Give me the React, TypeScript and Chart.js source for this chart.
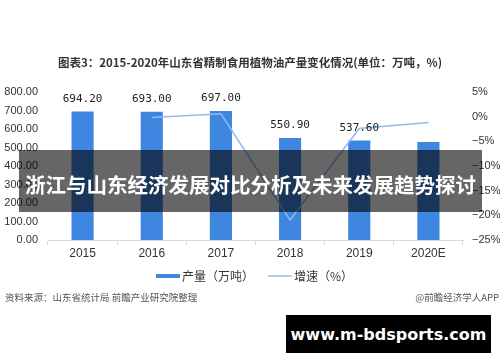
import React, { useEffect, useRef } from 'react';
import { Chart, registerables } from 'chart.js';

Chart.register(...registerables);

const categories = ['2015', '2016', '2017', '2018', '2019', '2020E'];
const outputValues = [694.2, 693.0, 697.0, 550.9, 537.6, 530.0];
const outputLabels: (string | null)[] = ['694.20', '693.00', '697.00', '550.90', '537.60', null];
const growthValues: (number | null)[] = [null, -0.17, 0.58, -20.96, -2.41, -1.2];
const leftAxis = { min: 0, max: 800, step: 100 };
const rightAxis = { min: -25, max: 5, step: 5 };

const titleText = '图表3：2015-2020年山东省精制食用植物油产量变化情况(单位：万吨，%)';
const legendBar = '产量（万吨）';
const legendLine = '增速（%）';
const sourceText = '资料来源：山东省统计局 前瞻产业研究院整理';
const creditText = '@前瞻经济学人APP';
const bannerText = '浙江与山东经济发展对比分析及未来发展趋势探讨';
const siteText = 'www.m-bdsports.com';

const BAR_COLOR = '#3f86e1';
const LINE_COLOR = '#92baf0';
const CJK = '"Noto Sans CJK SC", "Noto Sans", sans-serif';

const decorPlugin = {
  id: 'decor',
  afterDraw(chart: any) {
    const ctx = chart.ctx;
    ctx.save();
    // title
    ctx.fillStyle = '#333';
    ctx.font = `bold 11.5px ${CJK}`;
    ctx.textAlign = 'center';
    ctx.textBaseline = 'middle';
    ctx.fillText(titleText, 250, 63);

    // bar value labels
    const meta = chart.getDatasetMeta(1);
    ctx.font = '11px "DejaVu Sans Mono", monospace';
    ctx.fillStyle = '#222';
    meta.data.forEach((el: any, i: number) => {
      const t = outputLabels[i];
      if (t) ctx.fillText(t, el.x, el.y - 12.5);
    });

    // legend
    ctx.fillStyle = BAR_COLOR;
    ctx.fillRect(156, 274, 24, 4);
    ctx.strokeStyle = LINE_COLOR;
    ctx.lineWidth = 1.5;
    ctx.beginPath();
    ctx.moveTo(268, 276);
    ctx.lineTo(292, 276);
    ctx.stroke();
    ctx.fillStyle = '#333';
    ctx.font = `12px ${CJK}`;
    ctx.textAlign = 'left';
    ctx.fillText(legendBar, 182, 276);
    ctx.fillText(legendLine, 294, 276);

    // source
    ctx.fillStyle = '#555';
    ctx.font = `9.5px ${CJK}`;
    ctx.fillText(sourceText, 5, 297);
    ctx.textAlign = 'right';
    ctx.fillText(creditText, 499, 297);
    ctx.restore();
  },
};

export default function App() {
  const ref = useRef<HTMLCanvasElement | null>(null);
  useEffect(() => {
    if (!ref.current) return;
    const chart = new Chart(ref.current, {
      type: 'bar',
      data: {
        labels: categories,
        datasets: [
          {
            type: 'line',
            label: legendLine,
            data: growthValues,
            yAxisID: 'y1',
            borderColor: LINE_COLOR,
            backgroundColor: LINE_COLOR,
            borderWidth: 1.5,
            pointRadius: 0,
            tension: 0,
            order: 0,
          } as any,
          {
            type: 'bar',
            label: legendBar,
            data: outputValues,
            yAxisID: 'y',
            backgroundColor: BAR_COLOR,
            barPercentage: 0.32,
            categoryPercentage: 1,
            order: 1,
          } as any,
        ],
      },
      options: {
        animation: false,
        responsive: false,
        maintainAspectRatio: false,
        layout: { padding: { top: 92, bottom: 98, left: 0, right: 0 } },
        plugins: {
          legend: { display: false },
          title: { display: false },
          tooltip: { enabled: false },
        },
        scales: {
          x: {
            position: 'bottom',
            afterFit: (s: any) => { s.height = 24; },
            grid: { display: true, drawOnChartArea: false, color: '#d9d9d9', tickLength: 5, offset: true },
            border: { color: '#d9d9d9' },
            ticks: { color: '#333', font: { family: '"Liberation Sans", Arial, sans-serif', size: 12 }, padding: 1 },
          },
          y: {
            position: 'left',
            min: leftAxis.min,
            max: leftAxis.max,
            afterFit: (s: any) => { s.width = 48; },
            grid: { display: false, drawTicks: false },
            border: { display: false },
            ticks: {
              stepSize: leftAxis.step,
              padding: 10,
              color: '#333',
              font: { family: '"Liberation Sans", Arial, sans-serif', size: 11 },
              callback: (v: any) => Number(v).toFixed(2),
            },
          },
          y1: {
            position: 'right',
            min: rightAxis.min,
            max: rightAxis.max,
            afterFit: (s: any) => { s.width = 37; },
            grid: { display: false, drawTicks: false },
            border: { display: false },
            ticks: {
              stepSize: rightAxis.step,
              padding: 9,
              color: '#333',
              font: { family: '"Liberation Sans", Arial, sans-serif', size: 11 },
              callback: (v: any) => (Number(v) < 0 ? '−' + Math.abs(Number(v)) : String(v)) + '%',
            },
          },
        },
      } as any,
      plugins: [decorPlugin],
    });
    return () => chart.destroy();
  }, []);

  return (
    <div style={{ position: 'fixed', left: 0, top: 0, width: 500, height: 362, background: '#fff', overflow: 'hidden' }}>
      <canvas ref={ref} width={500} height={362} style={{ position: 'absolute', left: 0, top: 0, width: 500, height: 362 }} />
      <div
        style={{
          position: 'absolute', left: 19, top: 150, width: 463, height: 62,
          background: 'rgba(0,0,0,0.6)', color: '#fff',
          display: 'flex', alignItems: 'center', justifyContent: 'center',
          fontFamily: CJK, fontWeight: 700, fontSize: 20.5, whiteSpace: 'nowrap', letterSpacing: 0,
          paddingTop: 5, boxSizing: 'border-box',
        }}
      >
        {bannerText}
      </div>
      <div
        style={{
          position: 'absolute', left: 286, top: 315, width: 205, height: 38,
          background: '#000', color: '#fff',
          display: 'flex', alignItems: 'center', justifyContent: 'center',
          fontFamily: '"DejaVu Sans", sans-serif', fontWeight: 700, fontSize: 16, whiteSpace: 'nowrap',
        }}
      >
        {siteText}
      </div>
    </div>
  );
}
